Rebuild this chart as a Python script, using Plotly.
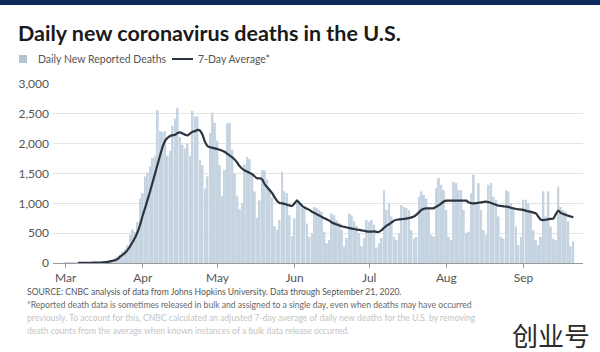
import pandas as pd
import plotly.graph_objects as go

# ---- Daily new reported deaths, per month ----
deaths_mar = [1, 1, 2, 3, 4, 2, 3, 4, 4, 6, 8, 10, 11, 12, 10, 18, 25, 40, 55, 60,
              75, 110, 140, 190, 230, 300, 470, 560, 520, 690, 1080]
deaths_apr = [1170, 1450, 1520, 1620, 1760, 1800, 2560, 2210, 2200, 2210,
              1800, 1880, 2300, 2420, 2600, 2110, 1980, 1920, 2000, 1800,
              2550, 2450, 2460, 1720, 1640, 1250, 1450, 2180, 2520, 2350]
deaths_may = [2050, 1640, 1120, 1560, 2340, 2350, 1900, 1500, 1130, 900,
              1000, 1650, 1780, 1740, 1480, 1200, 760, 1050, 1560, 1550,
              1400, 1250, 1100, 620, 560, 720, 1530, 1200, 1170, 800, 450]
deaths_jun = [750, 1060, 1030, 1000, 920, 660, 440, 500, 940, 920,
              890, 860, 525, 330, 385, 830, 800, 720, 680, 560,
              280, 420, 830, 800, 700, 620, 500, 280, 420, 720]
deaths_jul = [690, 720, 640, 260, 330, 420, 1220, 890, 1000, 780,
              440, 385, 500, 970, 940, 920, 890, 550, 410, 440,
              1110, 1200, 1140, 1080, 890, 470, 440, 1250, 1420, 1310, 1220]
deaths_aug = [890, 440, 385, 1360, 1340, 1220, 1220, 890, 500, 525,
              1170, 1480, 1000, 1340, 890, 550, 470, 1310, 1340, 1110,
              1060, 780, 440, 410, 1220, 1200, 1000, 940, 610, 300, 440]
deaths_sep = [1060, 1060, 1000, 890, 550, 385, 300, 440, 1200, 780,
              1200, 610, 410, 385, 1280, 940, 890, 860, 700, 280, 360]

# ---- 7-day average ----
avg_mar = [1, 2, 2, 3, 3, 4, 5, 6, 7, 8, 10, 14, 20, 28, 38, 52, 70, 110, 140, 175,
           225, 285, 355, 430, 530, 650]          # starts Mar 6
avg_apr = [800, 930, 1070, 1210, 1360, 1510, 1660, 1810, 1950, 2050,
           2100, 2130, 2140, 2150, 2180, 2190, 2170, 2150, 2140, 2170,
           2200, 2210, 2230, 2220, 2150, 2030, 1960, 1940, 1930, 1920]
avg_may = [1910, 1895, 1880, 1860, 1830, 1800, 1770, 1730, 1680, 1620,
           1580, 1550, 1530, 1510, 1490, 1450, 1420, 1420, 1400, 1320,
           1270, 1220, 1170, 1100, 1040, 1005, 1000, 990, 975, 965, 955]
avg_jun = [1000, 1050, 1000, 960, 930, 910, 890, 860, 840, 815,
           795, 770, 750, 730, 710, 680, 660, 645, 630, 615,
           605, 595, 585, 575, 570, 560, 555, 545, 540, 530]
avg_jul = [525, 525, 530, 520, 525, 550, 590, 625, 650, 680,
           710, 725, 730, 735, 740, 745, 755, 765, 780, 810,
           850, 890, 910, 915, 915, 915, 920, 945, 970, 1000, 1030]
avg_aug = [1045, 1045, 1045, 1045, 1045, 1045, 1045, 1045, 1045, 1015,
           1005, 1000, 1005, 1010, 1015, 1025, 1030, 1020, 1005, 990,
           975, 960, 955, 950, 945, 940, 925, 915, 905, 900, 895]
avg_sep = [890, 875, 865, 855, 845, 830, 775, 725, 720, 725,
           735, 740, 745, 820, 880, 840, 820, 805, 790, 780, 765]

y_ticks = [0, 500, 1000, 1500, 2000, 2500, 3000]

def series(starts, lists):
    xs, ys = [], []
    for s, l in zip(starts, lists):
        xs += list(pd.date_range(s, periods=len(l), freq="D"))
        ys += l
    return xs, ys

bar_x, bar_y = series(["2020-03-01", "2020-04-01", "2020-05-01", "2020-06-01",
                       "2020-07-01", "2020-08-01", "2020-09-01"],
                      [deaths_mar, deaths_apr, deaths_may, deaths_jun,
                       deaths_jul, deaths_aug, deaths_sep])
avg_x, avg_y = series(["2020-03-06", "2020-04-01", "2020-05-01", "2020-06-01",
                       "2020-07-01", "2020-08-01", "2020-09-01"],
                      [avg_mar, avg_apr, avg_may, avg_jun, avg_jul, avg_aug, avg_sep])

BAR_COLOR = "#c6d3e1"
LINE_COLOR = "#2c3440"
FONT = "Lato"

fig = go.Figure()
fig.add_trace(go.Bar(x=bar_x, y=bar_y, marker=dict(color=BAR_COLOR, line=dict(width=0)),
                     name="Daily New Reported Deaths", showlegend=False))
fig.add_trace(go.Scatter(x=avg_x, y=avg_y, mode="lines",
                         line=dict(color=LINE_COLOR, width=2.2, shape="spline", smoothing=0.5),
                         name="7-Day Average*", showlegend=False))

# plot area in pixels
L, R, T, B = 53, 583, 84, 263
W, H = R - L, B - T
def px(x): return (x - L) / W
def py(y): return (B - y) / H

fig.update_layout(
    width=600, height=352,
    margin=dict(l=L, r=600 - R, t=T, b=352 - B, pad=0),
    paper_bgcolor="white", plot_bgcolor="white",
    bargap=0.22,
    font=dict(family=FONT, color="#555555"),
    xaxis=dict(range=["2020-02-24 22:00", "2020-09-24 22:00"], type="date",
               dtick="M1", tick0="2020-03-01", tickformat="%b",
               showgrid=False, zeroline=False, showline=True,
               linecolor="#9a9a9a", linewidth=1,
               ticks="outside", ticklen=4, tickcolor="#9a9a9a",
               tickfont=dict(size=12, color="#555555")),
    yaxis=dict(range=[0, 3000], tickvals=y_ticks, tickformat=",",
               showgrid=True, gridcolor="#e3e3e3", gridwidth=1,
               zeroline=False, showline=False, ticks="",
               ticklabelstandoff=3,
               tickfont=dict(size=12, color="#555555")),
)

shapes = []
# top navy strip
shapes.append(dict(type="rect", xref="paper", yref="paper",
                   x0=px(0), x1=px(600), y0=py(5), y1=py(0),
                   fillcolor="#0c2a5b", line=dict(width=0), layer="above"))
# legend square
shapes.append(dict(type="rect", xref="paper", yref="paper",
                   x0=px(19), x1=px(27), y0=py(63), y1=py(55),
                   fillcolor="#b4c3d0", line=dict(width=0)))
# legend line
shapes.append(dict(type="line", xref="paper", yref="paper",
                   x0=px(172), x1=px(193), y0=py(59), y1=py(59),
                   line=dict(color=LINE_COLOR, width=2)))
fig.update_layout(shapes=shapes)

ann = []
ann.append(dict(text="<b>Daily new coronavirus deaths in the U.S.</b>",
                x=px(16), y=py(33), xref="paper", yref="paper",
                xanchor="left", yanchor="middle", showarrow=False,
                font=dict(family=FONT, size=21.5, color="#1a1a1a")))
ann.append(dict(text="Daily New Reported Deaths", x=px(36), y=py(59),
                xref="paper", yref="paper", xanchor="left", yanchor="middle",
                showarrow=False, font=dict(family=FONT, size=10.5, color="#555555")))
ann.append(dict(text="7-Day Average*", x=px(196), y=py(59),
                xref="paper", yref="paper", xanchor="left", yanchor="middle",
                showarrow=False, font=dict(family=FONT, size=10.5, color="#555555")))
notes = [
    ("SOURCE: CNBC analysis of data from Johns Hopkins University. Data through September 21, 2020.", 292, "#555555"),
    ("*Reported death data is sometimes released in bulk and assigned to a single day, even when deaths may have occurred", 304.5, "#6a6a6a"),
    ("previously. To account for this, CNBC calculated an adjusted 7-day average of daily new deaths for the U.S. by removing", 317.5, "#c4c4c4"),
    ("death counts from the average when known instances of a bulk data release occurred.", 330.5, "#c4c4c4"),
]
for t, yy, c in notes:
    ann.append(dict(text=t, x=px(25), y=py(yy), xref="paper", yref="paper",
                    xanchor="left", yanchor="middle", showarrow=False,
                    font=dict(family=FONT, size=8.6, color=c)))
ann.append(dict(text="创业号", x=px(592), y=py(334), xref="paper", yref="paper",
                xanchor="right", yanchor="middle", showarrow=False,
                font=dict(family="Noto Sans CJK SC", size=26, color="#2a2a2a")))
fig.update_layout(annotations=ann)

fig.write_html("out.html")
